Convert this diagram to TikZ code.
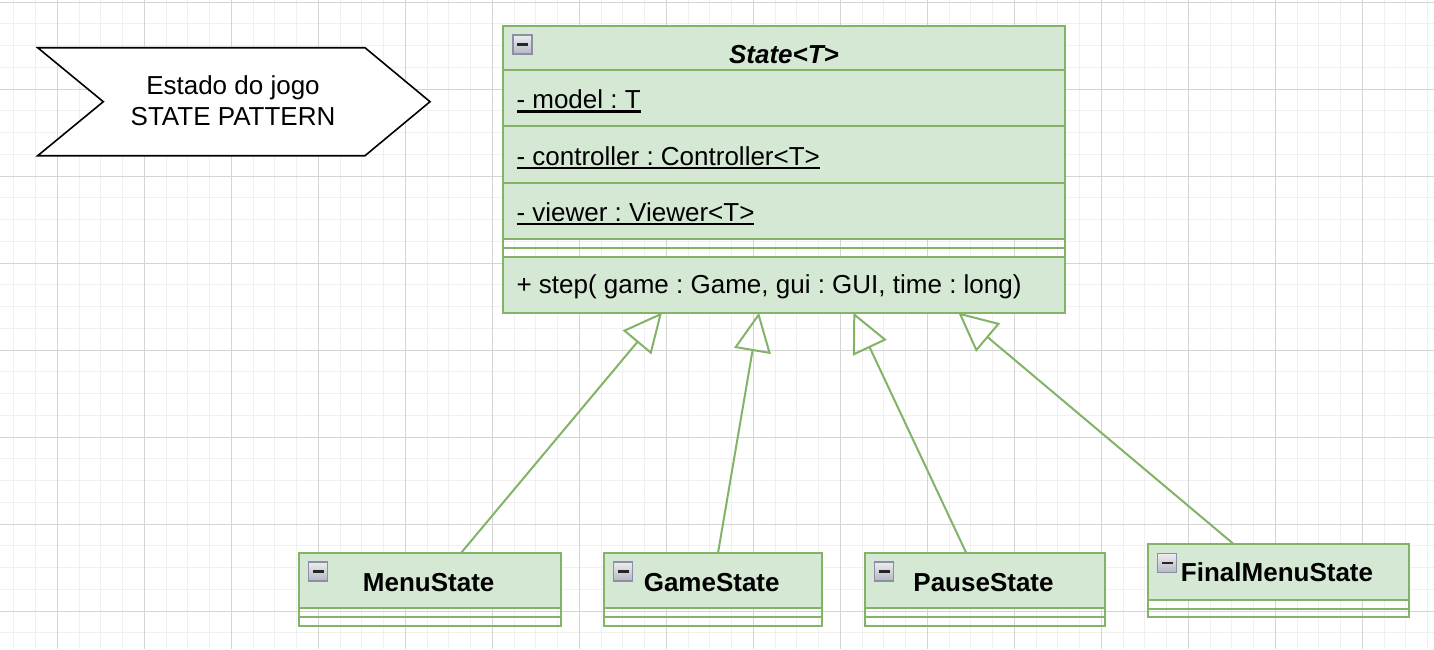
\documentclass[tikz,border=0pt]{standalone}
\usepackage{fontspec}
\setmainfont{Liberation Sans}
\usetikzlibrary{arrows.meta}
\definecolor{umlfill}{HTML}{D5E8D4}
\definecolor{umldraw}{HTML}{82B366}
\definecolor{gridminor}{HTML}{F0F0F0}
\definecolor{gridmajor}{HTML}{D4D4D4}
\definecolor{iconedge}{HTML}{8A8FA6}
\definecolor{icontop}{HTML}{EDEDF0}
\definecolor{iconbot}{HTML}{B4B7C2}
\newcommand\umlul[1]{\setbox0=\hbox{#1}\rlap{\rule[-4.2pt]{\wd0}{2.2pt}}\box0}
\frenchspacing
\begin{document}
\frenchspacing
\begin{tikzpicture}[x=1pt,y=-1pt,
  comp/.style={rectangle, draw=umldraw, fill=umlfill, line width=2pt, inner sep=0pt, outer sep=0pt, anchor=north west},
  sepbox/.style={rectangle, draw=umldraw, line width=2pt, inner sep=0pt, outer sep=0pt, anchor=north west},
  txt/.style={inner sep=0pt, outer sep=0pt},
  big/.style={font=\fontsize{26}{31}\selectfont\frenchspacing},
  bigbold/.style={font=\fontsize{26}{31}\selectfont\bfseries},
  iconbox/.style={rectangle, draw=iconedge, line width=1.5pt, top color=icontop, bottom color=iconbot, minimum size=19pt, inner sep=0pt, outer sep=0pt, anchor=north west,
    path picture={\fill[black!85] ([xshift=-5.5pt,yshift=-1.2pt]path picture bounding box.center) rectangle ([xshift=5.5pt,yshift=1.2pt]path picture bounding box.center);}},
  gen/.style={draw=umldraw, line width=2pt, -{Triangle[open, length=39pt, width=37pt]}},
  gridmin/.style={draw=gridminor, line width=1pt},
  gridmaj/.style={draw=gridmajor, line width=1pt}
]
\useasboundingbox (0,0) rectangle (1434,649);
\fill[white] (0,0) rectangle (1434,649);
% grid
\foreach \i in {-2,...,63} \draw[gridmin] ({57.3+21.75*\i},0) -- ({57.3+21.75*\i},649);
\foreach \j in {0,...,29} \draw[gridmin] (0,{2+21.75*\j}) -- (1434,{2+21.75*\j});
\foreach \i in {-1,...,15} \draw[gridmaj] ({57.3+87*\i},0) -- ({57.3+87*\i},649);
\foreach \j in {0,...,7} \draw[gridmaj] (0,{2+87*\j}) -- (1434,{2+87*\j});

% title chevron
\draw[line width=1.6pt, fill=white, line join=miter] (37.7,47.7) -- (365,47.7) -- (430,101.7) -- (365,155.7) -- (37.7,155.7) -- (103.3,101.7) -- cycle;
\node[txt, font=\fontsize{26}{30.7}\selectfont, align=center] (title) at (233,100.7) {Estado do jogo\\STATE PATTERN};

% State<T>
\node[comp, minimum width=562pt, minimum height=44pt] (sthead) at (503,26) {};
\node[comp, minimum width=562pt, minimum height=56pt] (stmodel) at (503,70) {};
\node[comp, minimum width=562pt, minimum height=57pt] (stctrl) at (503,126) {};
\node[comp, minimum width=562pt, minimum height=56pt] (stview) at (503,183) {};
\node[sepbox, minimum width=562pt, minimum height=9pt] (stsepa) at (503,239) {};
\node[sepbox, minimum width=562pt, minimum height=9pt] (stsepb) at (503,248) {};
\node[comp, minimum width=562pt, minimum height=55.5pt] (stops) at (503,257) {};
\node[iconbox] (sticon) at (513,35) {};
\node[txt, anchor=base, font=\fontsize{26}{31}\selectfont\bfseries\itshape] (sttitle) at (784,63.5) {State<T>};
\node[txt, big, anchor=base west] (stmodeltxt) at (516.5,108.3) {\umlul{- model : T}};
\node[txt, big, anchor=base west] (stctrltxt) at (516.5,165) {\umlul{- controller : Controller<T>}};
\node[txt, big, anchor=base west] (stviewtxt) at (516.5,221) {\umlul{- viewer : Viewer<T>}};
\node[txt, big, anchor=base west] (stopstxt) at (516.5,293.5) {+ step( game : Game, gui : GUI, time : long)};

% MenuState
\node[comp, minimum width=262pt, minimum height=55pt] (menuhead) at (298.5,553) {};
\node[sepbox, minimum width=262pt, minimum height=9pt] (menusepa) at (298.5,608) {};
\node[sepbox, minimum width=262pt, minimum height=9pt] (menusepb) at (298.5,617) {};
\node[iconbox] (menuicon) at (308.5,562) {};
\node[txt, bigbold, anchor=base] (menutxt) at (428.7,591) {MenuState};

% GameState
\node[comp, minimum width=218pt, minimum height=55pt] (gamehead) at (603.5,553) {};
\node[sepbox, minimum width=218pt, minimum height=9pt] (gamesepa) at (603.5,608) {};
\node[sepbox, minimum width=218pt, minimum height=9pt] (gamesepb) at (603.5,617) {};
\node[iconbox] (gameicon) at (613.5,562) {};
\node[txt, bigbold, anchor=base] (gametxt) at (711.7,591) {GameState};

% PauseState
\node[comp, minimum width=240pt, minimum height=55pt] (pausehead) at (864.5,553) {};
\node[sepbox, minimum width=240pt, minimum height=9pt] (pausesepa) at (864.5,608) {};
\node[sepbox, minimum width=240pt, minimum height=9pt] (pausesepb) at (864.5,617) {};
\node[iconbox] (pauseicon) at (874.5,562) {};
\node[txt, bigbold, anchor=base] (pausetxt) at (983.5,591) {PauseState};

% FinalMenuState
\node[comp, minimum width=261pt, minimum height=56.5pt] (finalhead) at (1147.5,543.5) {};
\node[sepbox, minimum width=261pt, minimum height=8.5pt] (finalsepa) at (1147.5,600) {};
\node[sepbox, minimum width=261pt, minimum height=8.5pt] (finalsepb) at (1147.5,608.5) {};
\node[iconbox] (finalicon) at (1157.5,553.5) {};
\node[txt, bigbold, anchor=base] (finaltxt) at (1277,581.7) {FinalMenuState};

% generalizations
\draw[gen] ([xshift=31.5pt]menuhead.north) -- ([xshift=-122pt]stops.south);
\draw[gen] ([xshift=5.5pt]gamehead.north) -- ([xshift=-25pt]stops.south);
\draw[gen] ([xshift=-18.25pt]pausehead.north) -- ([xshift=69.3pt]stops.south);
\draw[gen] ([xshift=-45pt]finalhead.north) -- ([xshift=174.3pt]stops.south);
\end{tikzpicture}
\end{document}
